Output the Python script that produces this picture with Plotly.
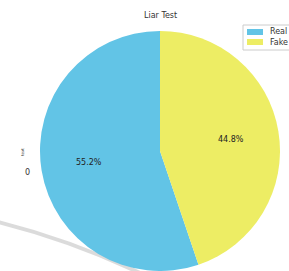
import math
import plotly.graph_objects as go

labels = ["Real", "Fake"]
values = [55.2, 44.8]
colors = ["#62C4E6", "#EDED64"]
title = "Liar Test"

W, H = 289, 271
CX, CY, R = 160, 151, 120  # pie centre / radius in pixels

# first slice runs counterclockwise from 12 o'clock (matplotlib startangle=90)
total = sum(values)
rot = -values[0] / total * 360

fig = go.Figure()
fig.add_trace(go.Pie(
    labels=labels, values=values, sort=False,
    direction="clockwise", rotation=rot,
    marker=dict(colors=colors, line=dict(width=0)),
    textinfo="none",
    domain=dict(x=[(CX - R) / W, (CX + R) / W], y=[(H - CY - R) / H, (H - CY + R) / H]),
    hoverinfo="skip", showlegend=False,
))

def px(x):
    return x / W

def py(y):
    return 1 - y / H

# percentage labels at 0.6 radius (matplotlib pctdistance)
start = 90.0
for v in values:
    frac = v / total
    mid = math.radians(start + frac * 360 / 2)
    start += frac * 360
    x = CX + 0.6 * R * math.cos(mid)
    y = CY - 0.6 * R * math.sin(mid)
    fig.add_annotation(text="{:.1f}%".format(frac * 100), x=px(x), y=py(y),
                       xref="paper", yref="paper", xanchor="center", yanchor="middle",
                       showarrow=False, font=dict(family="DejaVu Sans", size=8, color="#222"))

# shadow arc (decorative)
fig.add_shape(type="path", xref="paper", yref="paper",
              path="M {} {} Q {} {} {} {}".format(px(-2), py(222), px(70), py(240), px(140), py(273)),
              line=dict(color="rgba(175,175,175,0.45)", width=4), layer="below")

# legend (manual)
fig.add_shape(type="rect", xref="paper", yref="paper",
              x0=px(243), x1=px(300), y0=py(25), y1=py(50),
              line=dict(color="#CCCCCC", width=1), fillcolor="white")
for i, (lab, col) in enumerate(zip(labels, colors)):
    yc = 32 + i * 10
    fig.add_shape(type="rect", xref="paper", yref="paper",
                  x0=px(247), x1=px(263), y0=py(yc - 3), y1=py(yc + 3),
                  line=dict(width=0), fillcolor=col)
    fig.add_annotation(text=lab, x=px(268), y=py(yc), xref="paper", yref="paper",
                       xanchor="left", yanchor="middle", showarrow=False,
                       font=dict(family="DejaVu Sans", size=8, color="#333"))

fig.add_annotation(text=title, x=px(160), y=py(16), xref="paper", yref="paper",
                   xanchor="center", yanchor="middle",
                   showarrow=False, font=dict(family="DejaVu Sans", size=8, color="#333"))
fig.add_annotation(text="text", x=px(22), y=py(152), xref="paper", yref="paper",
                   xanchor="center", yanchor="middle",
                   showarrow=False, textangle=-90, font=dict(family="DejaVu Sans", size=4, color="#333"))
fig.add_annotation(text="0", x=px(27), y=py(172), xref="paper", yref="paper",
                   xanchor="center", yanchor="middle",
                   showarrow=False, font=dict(family="DejaVu Sans", size=8, color="#333"))

fig.update_layout(
    width=W, height=H, margin=dict(l=0, r=0, t=0, b=0),
    paper_bgcolor="white", plot_bgcolor="white",
    showlegend=False,
)

fig.write_html("out.html", post_script="document.body.style.margin='0';",
               config={"displayModeBar": False})
